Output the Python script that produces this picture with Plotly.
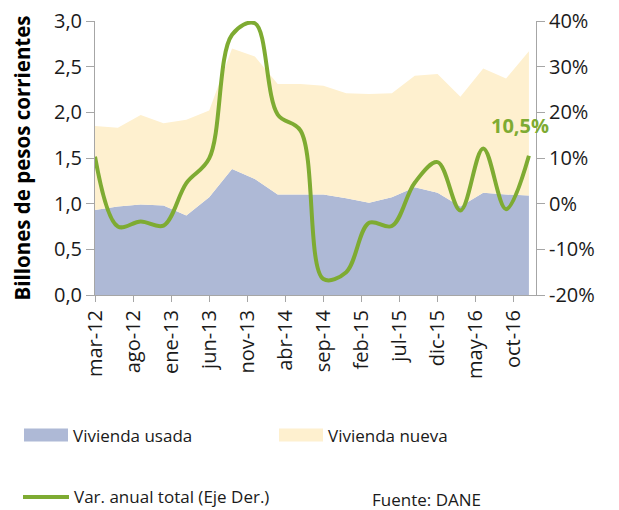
import plotly.graph_objects as go

# ── Data ──────────────────────────────────────────────────────────────────────
MESES = ['ene', 'feb', 'mar', 'abr', 'may', 'jun',
         'jul', 'ago', 'sep', 'oct', 'nov', 'dic']

trimestres = ['mar-12', 'jun-12', 'sep-12', 'dic-12',
              'mar-13', 'jun-13', 'sep-13', 'dic-13',
              'mar-14', 'jun-14', 'sep-14', 'dic-14',
              'mar-15', 'jun-15', 'sep-15', 'dic-15',
              'mar-16', 'jun-16', 'sep-16', 'dic-16']

vivienda_usada = [0.93, 0.97, 0.99, 0.98, 0.87, 1.07, 1.38, 1.27, 1.10, 1.10,
                  1.10, 1.06, 1.01, 1.07, 1.18, 1.12, 0.97, 1.12, 1.10, 1.09]
vivienda_nueva = [0.92, 0.86, 0.98, 0.90, 1.05, 0.95, 1.32, 1.34, 1.21, 1.21,
                  1.19, 1.15, 1.19, 1.14, 1.22, 1.30, 1.20, 1.36, 1.27, 1.58]
var_anual = [10.3, -5.0, -3.9, -4.8, 4.5, 9.9, 37.0, 39.5, 19.5, 16.0,
             -16.5, -15.0, -4.2, -4.9, 4.6, 9.1, -1.5, 12.1, -1.2, 10.5]

ticks_x = ['mar-12', 'ago-12', 'ene-13', 'jun-13', 'nov-13', 'abr-14',
           'sep-14', 'feb-15', 'jul-15', 'dic-15', 'may-16', 'oct-16']
ticks_y2 = [-20, -10, 0, 10, 20, 30, 40]

# ── Style ─────────────────────────────────────────────────────────────────────
_BLUE   = '#aeb9d6'
_YELLOW = '#fef0cf'
_GREEN  = '#7eab32'
_AXIS   = '#a6a6a6'
_FONT   = 'Open Sans'

W, H = 619, 510
OFF = 8                                   # page body margin
PL, PR, PT, PB = 95, 536, 21, 295         # plot box as seen on the page
L, R = PL - OFF, W - (PR - OFF)
T, B = PT - OFF, H - (PB - OFF)


def meses_desde_inicio(lbl: str) -> int:
    m, yy = lbl.split('-')
    return (int(yy) - 12) * 12 + MESES.index(m) - 2


def px(x, y):
    """page pixel position -> paper coords"""
    return (x - PL) / (PR - PL), (PB - y) / (PB - PT)


xs = [meses_desde_inicio(q) for q in trimestres]
tick_pos = [meses_desde_inicio(t) for t in ticks_x]

fig = go.Figure()
fig.add_trace(go.Scatter(x=xs, y=vivienda_usada, stackgroup='one', mode='none',
                         fillcolor=_BLUE, name='Vivienda usada'))
fig.add_trace(go.Scatter(x=xs, y=vivienda_nueva, stackgroup='one', mode='none',
                         fillcolor=_YELLOW, name='Vivienda nueva'))
fig.add_trace(go.Scatter(x=xs, y=var_anual, yaxis='y2', mode='lines',
                         line=dict(color=_GREEN, width=4, shape='spline', smoothing=1.0),
                         name='Var. anual total (Eje Der.)'))

_tickfont = dict(size=20, color='#1a1a1a')
fig.update_layout(
    width=W, height=H,
    margin=dict(l=L, r=R, t=T, b=B),
    paper_bgcolor='white', plot_bgcolor='white',
    showlegend=False,
    separators=',.',
    font=dict(family=_FONT, size=17, color='#1a1a1a'),
    xaxis=dict(range=[0, 57.93], tickvals=tick_pos, ticktext=ticks_x, tickangle=-90,
               tickfont=_tickfont, automargin=False,
               ticks='outside', ticklen=6, tickcolor=_AXIS, showline=True,
               linecolor=_AXIS, showgrid=False, zeroline=False),
    yaxis=dict(range=[0, 3], dtick=0.5, tickformat='.1f', ticks='outside', ticklen=8,
               tickfont=_tickfont, automargin=False, ticklabeloverflow='allow',
               tickcolor=_AXIS, showline=True, linecolor=_AXIS, showgrid=False,
               zeroline=False,
               title=dict(text='Billones de pesos corrientes',
                          font=dict(size=20.5, weight='bold', color='black'), standoff=28)),
    yaxis2=dict(range=[-20, 40], overlaying='y', side='right',
                tickvals=ticks_y2, ticktext=[f'{v}%' for v in ticks_y2],
                tickfont=_tickfont, automargin=False, ticklabeloverflow='allow',
                ticks='outside', ticklen=8, tickcolor=_AXIS, showline=True,
                linecolor=_AXIS, showgrid=False, zeroline=False),
)

# last value label
fig.add_annotation(x=xs[-1], y=var_anual[-1], yref='y2',
                   text=f'{var_anual[-1]:.1f}%'.replace('.', ','),
                   showarrow=False, xshift=-9, yshift=30,
                   font=dict(size=20, weight='bold', color=_GREEN))

# legend drawn by hand (two columns, source note)
legend = [
    ('rect', _BLUE, 24, 68, 435, 'Vivienda usada'),
    ('rect', _YELLOW, 279, 323, 435, 'Vivienda nueva'),
    ('line', _GREEN, 23, 69, 497, 'Var. anual total (Eje Der.)'),
]
for kind, color, x0, x1, yc, label in legend:
    px0, py0 = px(x0, yc - 6.5)
    px1, py1 = px(x1, yc + 6.5)
    if kind == 'rect':
        fig.add_shape(type='rect', xref='paper', yref='paper', x0=px0, x1=px1,
                      y0=py0, y1=py1, fillcolor=color, line_width=0)
    else:
        _, pyc = px(0, yc)
        fig.add_shape(type='line', xref='paper', yref='paper', x0=px0, x1=px1,
                      y0=pyc, y1=pyc, line=dict(color=color, width=4))
    tx, ty = px(x1 + 3, yc)
    fig.add_annotation(xref='paper', yref='paper', x=tx, y=ty, text=label,
                       xanchor='left', yanchor='middle', showarrow=False,
                       font=dict(size=17, color='#1a1a1a'))

fx, fy = px(370, 499)
fig.add_annotation(xref='paper', yref='paper', x=fx, y=fy, text='Fuente: DANE',
                   xanchor='left', yanchor='middle', showarrow=False,
                   font=dict(size=17, color='#1a1a1a'))

fig.write_html('out.html')
